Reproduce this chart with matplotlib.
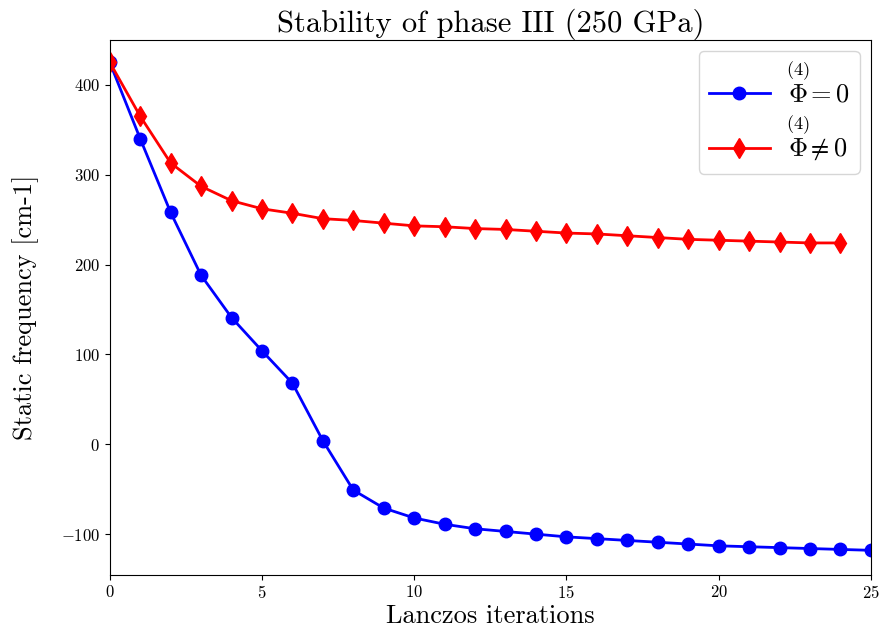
import matplotlib
matplotlib.use('Agg')
import matplotlib.pyplot as plt

plt.rcParams['font.family'] = 'cmr10'
plt.rcParams['mathtext.fontset'] = 'cm'
plt.rcParams['axes.formatter.use_mathtext'] = True
plt.rcParams['axes.unicode_minus'] = True

# Lanczos iterations and static frequencies
iter_blue = list(range(26))
freq_blue = [425, 340, 258, 188, 141, 104, 68, 4, -51, -71, -82, -89, -94, -97,
             -100, -103, -105, -107, -109, -111, -113, -114, -115, -116, -117, -118]
iter_red = list(range(25))
freq_red = [425, 365, 313, 287, 271, 262, 257, 251, 249, 246, 243, 242, 240, 239,
            237, 235, 234, 232, 230, 228, 227, 226, 225, 224, 224]

label_blue = r'$\overset{(4)}{\Phi}\!=0$'
label_red = r'$\overset{(4)}{\Phi}\!\neq 0$'

fig, ax = plt.subplots(figsize=(8.85, 6.42), dpi=100)
fig.subplots_adjust(left=0.124, right=0.984, top=0.938, bottom=0.105)

ax.plot(iter_blue, freq_blue, '-o', color='blue', lw=2, ms=9, label=label_blue)
ax.plot(iter_red, freq_red, '-d', color='red', lw=2, ms=10, label=label_red)

ax.set_xlim(0, 25)
ax.set_ylim(-145, 450)
ax.set_title('Stability of phase III (250 GPa)', fontsize=22, pad=5)
ax.set_xlabel('Lanczos iterations', fontsize=19, labelpad=2)
ax.set_ylabel('Static frequency [cm-1]', fontsize=19, labelpad=16)
ax.tick_params(labelsize=12)

ax.legend(loc='upper right', fontsize=19, handlelength=2.3, labelspacing=0.25,
          borderaxespad=0.42, handletextpad=0.6)

plt.savefig('out.png', dpi=100)
